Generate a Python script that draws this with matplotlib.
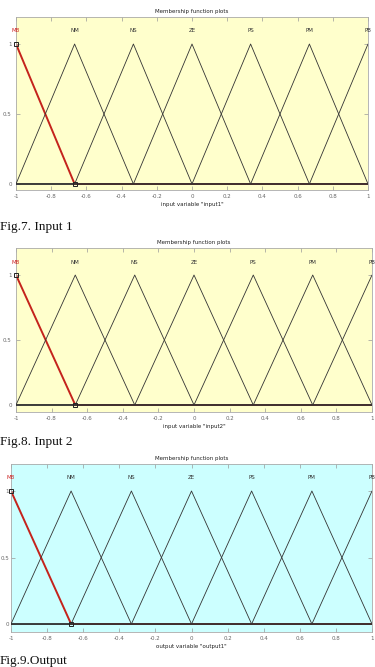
import numpy as np
import matplotlib.pyplot as plt

# membership functions (triangular: a, b, c), same for all three variables
mf_names = ['MB', 'NM', 'NS', 'ZE', 'PS', 'PM', 'PB']
mf_a = [-1.333, -1.0, -0.667, -0.333, 0.0, 0.333, 0.667]
mf_b = [-1.0, -0.667, -0.333, 0.0, 0.333, 0.667, 1.0]
mf_c = [-0.667, -0.333, 0.0, 0.333, 0.667, 1.0, 1.333]

x_ticks = [-1, -0.8, -0.6, -0.4, -0.2, 0, 0.2, 0.4, 0.6, 0.8, 1]
x_tick_labels = ['-1', '-0.8', '-0.6', '-0.4', '-0.2', '0', '0.2', '0.4', '0.6', '0.8', '1']
y_ticks = [0, 0.5, 1]

xlabels = ['input variable "input1"', 'input variable "input2"', 'output variable "output1"']
captions = ['Fig.7. Input 1', 'Fig.8. Input 2', 'Fig.9.Output']
bg_colors = ['#ffffcc', '#ffffcc', '#ccffff']

# axes boxes in pixels: left, top, right, bottom (figure is 375 x 667)
W, H = 375, 667
boxes = [(16, 17, 368, 190), (16, 248, 372, 412), (11, 464, 372, 632)]
ylims = [(-0.043, 1.193), (-0.054, 1.208), (-0.06, 1.203)]
caption_y = [227, 442, 661]
ypads = [3, 3, 1.2]

fig = plt.figure(figsize=(W / 100, H / 100), dpi=100)

for i in range(3):
    l, t, r, b = boxes[i]
    ax = fig.add_axes([l / W, 1 - b / H, (r - l) / W, (b - t) / H])
    ax.set_facecolor(bg_colors[i])
    ax.set_xlim(-1, 1)
    ax.set_ylim(*ylims[i])

    # selected MF (MB) in red, drawn first so the others sit on top
    ax.plot([mf_a[0], mf_b[0], mf_c[0], 1], [0, 1, 0, 0], color='#c4231c', lw=1.4,
            solid_joinstyle='miter', zorder=2)
    for k in range(1, len(mf_names)):
        xs = [min(mf_a[k], -1), mf_a[k], mf_b[k], mf_c[k], max(mf_c[k], 1)]
        ys = [0, 0, 1, 0, 0]
        ax.plot(xs, ys, color='#333333', lw=0.6, zorder=3)
    ax.plot([mf_b[0], mf_c[0]], [1, 0], ls='none', marker='s', ms=3.5,
            mfc='none', mec='#222222', mew=0.7, zorder=4, clip_on=False)

    for k, name in enumerate(mf_names):
        ax.text(mf_b[k], 1.1, name, ha='center', va='center', fontsize=4,
                color='#cc2222' if k == 0 else '#333333', clip_on=False)

    ax.set_xticks(x_ticks)
    ax.set_xticklabels(x_tick_labels)
    ax.set_yticks(y_ticks)
    ax.set_yticklabels(['0', '0.5', '1'])
    ax.tick_params(direction='in', length=3, width=0.5, colors='#999999',
                   labelcolor='#666666', labelsize=4, top=True, right=True, pad=3)
    ax.tick_params(axis='y', pad=ypads[i])
    for s in ax.spines.values():
        s.set_color('#aaaaaa')
        s.set_linewidth(0.6)
    ax.set_xlabel(xlabels[i], fontsize=4, color='#222222', labelpad=2)
    ax.set_title('Membership function plots', fontsize=4, color='#222222', pad=3)

    fig.text(0.0, 1 - caption_y[i] / H, captions[i], fontsize=9.5,
             family='Liberation Serif', va='center', ha='left', color='#111111')

fig.savefig('out.png', dpi=100, facecolor='white')
